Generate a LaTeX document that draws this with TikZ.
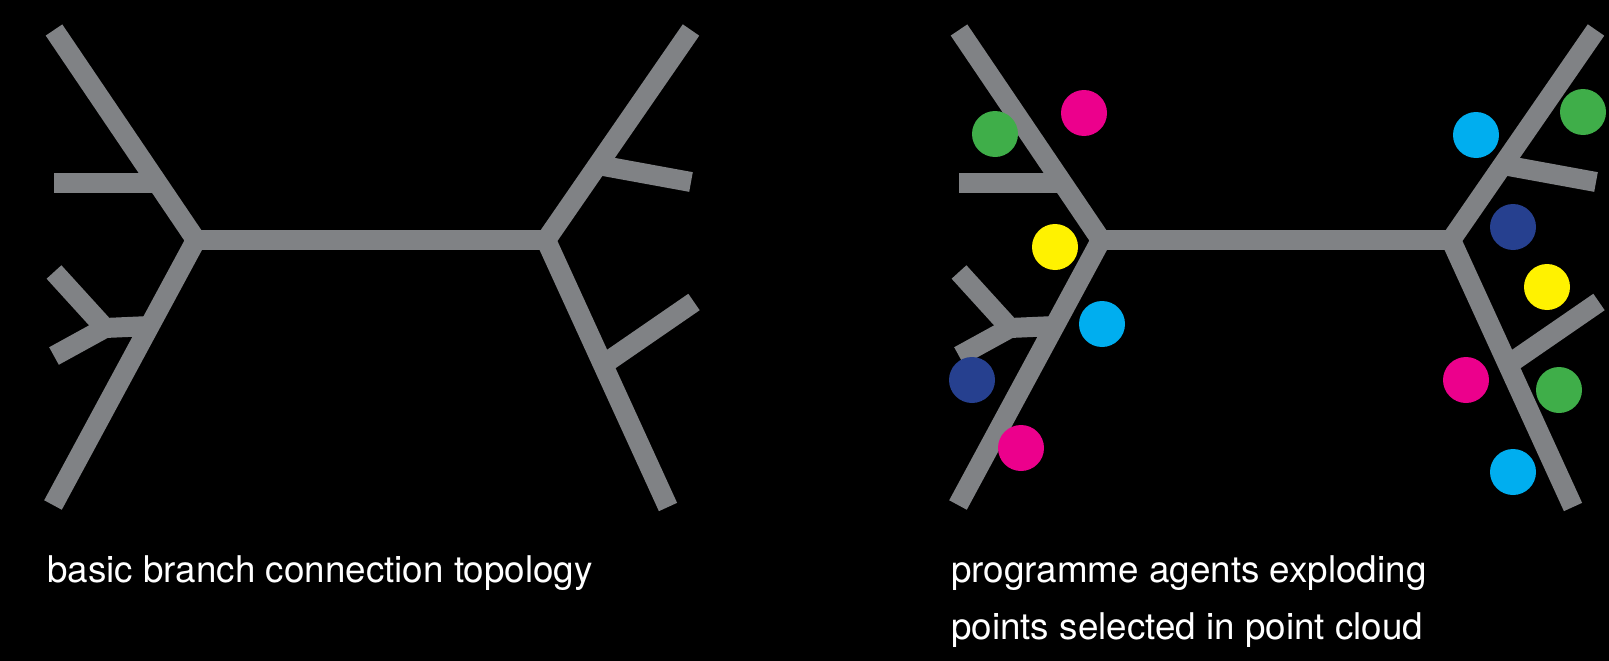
\documentclass[tikz,border=0pt]{standalone}
\usepackage{fontspec}
\setmainfont{TeX Gyre Heros}
\usetikzlibrary{positioning,calc}
\definecolor{branchgrey}{RGB}{128,130,133}
\definecolor{agentgreen}{RGB}{63,174,73}
\definecolor{agentmagenta}{RGB}{236,0,140}
\definecolor{agentyellow}{RGB}{255,242,0}
\definecolor{agentcyan}{RGB}{0,174,239}
\definecolor{agentnavy}{RGB}{38,64,143}

\begin{document}
\begin{tikzpicture}[x=1pt, y=-1pt,
  branch/.style={line width=20pt, branchgrey},
  agent/.style={circle, inner sep=0pt, minimum size=46pt},
  caption/.style={anchor=base west, text=white, inner sep=0pt, font=\fontsize{36.8}{57}\selectfont}]
  \fill[black] (0,0) rectangle (1609,661);
  \useasboundingbox (0,0) rectangle (1609,661);

  % same topology on both sides
  \foreach \dx/\side in {0/l, 905/r} {
    \begin{scope}[xshift=\dx]
      \coordinate (\side-jl) at (196,240);
      \coordinate (\side-jr) at (546,240);
      \coordinate (\side-ul) at (54,30);
      \coordinate (\side-ll) at (53,505);
      \coordinate (\side-ur) at (691,30);
      \coordinate (\side-lr) at (668,507);
      \coordinate (\side-fk) at (105,328);
      \draw[branch] (\side-ul) -- (\side-jl) -- (\side-ll);
      \draw[branch] (\side-ur) -- (\side-jr) -- (\side-lr);
      \draw[branch] (\side-jl) -- (\side-jr);
      % side stubs
      \coordinate (\side-s1a) at (157,183);
      \coordinate (\side-s1b) at (54,183);
      \draw[branch] (\side-s1a) -- (\side-s1b);
      \coordinate (\side-s2a) at (150,326);
      \coordinate (\side-f1) at (54,272);
      \coordinate (\side-f2) at (54,356);
      \draw[branch] (\side-f1) -- (\side-fk) -- (\side-f2);
      \draw[branch] (\side-fk) -- (\side-s2a);
      \coordinate (\side-s3a) at (598,165);
      \coordinate (\side-s3b) at (691,182);
      \draw[branch] (\side-s3a) -- (\side-s3b);
      \coordinate (\side-s4a) at (604,364);
      \coordinate (\side-s4b) at (694,302);
      \draw[branch] (\side-s4a) -- (\side-s4b);
    \end{scope}
  }

  % agents
  \node[agent, fill=agentgreen] (green1) at (995,134) {};
  \node[agent, fill=agentmagenta] (magenta1) at (1084,113) {};
  \node[agent, fill=agentyellow] (yellow1) at (1055,247) {};
  \node[agent, fill=agentcyan] (cyan1) at (1102,324) {};
  \node[agent, fill=agentnavy] (navy1) at (972,380) {};
  \node[agent, fill=agentmagenta] (magenta2) at (1021,448) {};
  \node[agent, fill=agentcyan] (cyan2) at (1476,135) {};
  \node[agent, fill=agentgreen] (green2) at (1583,112) {};
  \node[agent, fill=agentnavy] (navy2) at (1513,227) {};
  \node[agent, fill=agentyellow] (yellow2) at (1547,287) {};
  \node[agent, fill=agentmagenta] (magenta3) at (1466,380) {};
  \node[agent, fill=agentgreen] (green3) at (1559,390) {};
  \node[agent, fill=agentcyan] (cyan3) at (1513,472) {};

  \node[caption] (topology) at (47,582) {basic branch connection topology};
  \node[caption] (agentsa) at (951,582) {programme agents exploding};
  \node[caption] (agentsb) at (951,639) {points selected in point cloud};
\end{tikzpicture}
\end{document}
